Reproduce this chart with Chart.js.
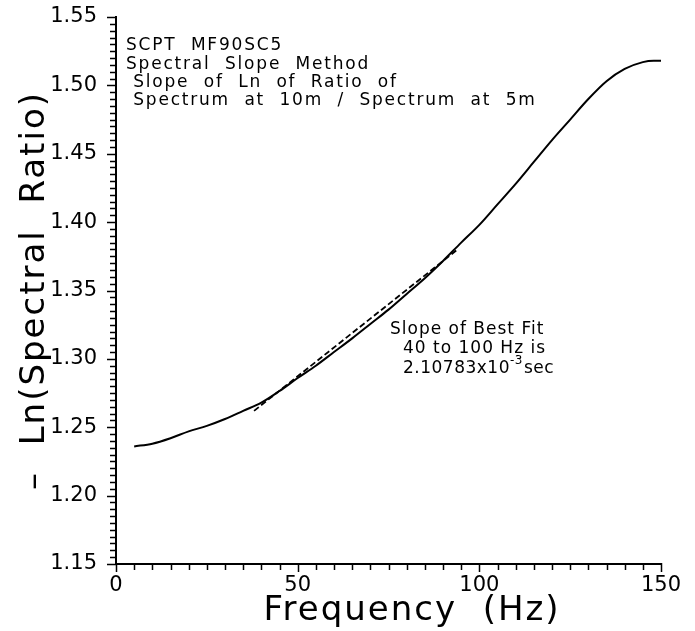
<!DOCTYPE html>
<html>
<head>
<meta charset="utf-8">
<script src="https://cdn.jsdelivr.net/npm/chart.js@4.4.1/dist/chart.umd.min.js"></script>
<style>
  html, body { margin: 0; padding: 0; background: #fff; }
  #wrap { width: 695px; height: 631px; }
</style>
</head>
<body>
<div id="wrap"><canvas id="ratioPlot" width="695" height="631"></canvas></div>
<script>
// measured ratio curve
const freqHz = [5, 10, 15, 20, 25, 30, 35, 40, 45, 50, 55, 60, 65, 70, 75, 80, 85, 90, 95, 100,
                105, 110, 115, 120, 125, 130, 135, 140, 145, 148, 150];
const lnRatio = [1.236, 1.238, 1.242, 1.247, 1.251, 1.256, 1.262, 1.268, 1.2765, 1.286,
                 1.295, 1.305, 1.315, 1.3255, 1.336, 1.3475, 1.359, 1.3716, 1.385, 1.398,
                 1.413, 1.428, 1.444, 1.460, 1.475, 1.490, 1.503, 1.512, 1.517, 1.518, 1.518];

// best fit line (40 to 100 Hz)
const fitFreq = [38, 94];
const fitLn = [1.262, 1.380];

const headerLines = ['SCPT  MF90SC5', 'Spectral  Slope  Method', ' Slope  of  Ln  of  Ratio  of', ' Spectrum  at  10m  /  Spectrum  at  5m'];
const fitLines = ['Slope of Best Fit', '40 to 100 Hz is'];
const fitSlope = ['2.10783x10', '-3', 'sec'];

const font = '"DejaVu Sans", sans-serif';

function toPoints(xs, ys) {
    let pts = [];
    for (let i = 0; i < xs.length; i++) {
        pts.push({x: xs[i], y: ys[i]});
    }
    return pts;
}

/**
 * tick marks: minor every 0.005 / 5 Hz, longer at labelled values
 */
const tickMarks = {
    id: 'tickMarks',
    afterDraw(chart) {
        let ctx = chart.ctx;
        let xs = chart.scales.x;
        let ys = chart.scales.y;
        let area = chart.chartArea;
        ctx.save();
        ctx.strokeStyle = '#000';
        ctx.lineWidth = 1.5;
        ctx.beginPath();
        for (let i = 0; i <= 80; i++) {
            let py = Math.round(ys.getPixelForValue(1.15 + i * 0.005)) + 0.5;
            let len = (i % 10 === 0) ? 9 : 6;
            ctx.moveTo(area.left - len, py);
            ctx.lineTo(area.left + 1, py);
        }
        for (let i = 0; i <= 30; i++) {
            let px = Math.round(xs.getPixelForValue(i * 5)) + 0.5;
            let len = (i % 10 === 0) ? 8 : 6;
            ctx.moveTo(px, area.bottom - 1);
            ctx.lineTo(px, area.bottom + len);
        }
        ctx.stroke();
        ctx.restore();
    }
};

/**
 * axis titles and notes
 */
const notes = {
    id: 'notes',
    afterDraw(chart) {
        let ctx = chart.ctx;
        let area = chart.chartArea;
        ctx.save();
        ctx.fillStyle = '#000';
        ctx.textBaseline = 'middle';

        ctx.font = '17px ' + font;
        ctx.letterSpacing = '1.8px';
        ctx.textAlign = 'left';
        let lineY = [46, 65, 83, 101];
        for (let i = 0; i < headerLines.length; i++) {
            ctx.fillText(headerLines[i], 126, lineY[i]);
        }

        ctx.letterSpacing = '1px';
        ctx.fillText(fitLines[0], 390, 330);
        ctx.fillText(fitLines[1], 403, 349);
        let x0 = 403;
        ctx.letterSpacing = '0.5px';
        ctx.fillText(fitSlope[0], x0, 369);
        x0 += ctx.measureText(fitSlope[0]).width;
        ctx.font = '12px ' + font;
        ctx.fillText(fitSlope[1], x0, 361);
        x0 += ctx.measureText(fitSlope[1]).width + 1;
        ctx.font = '17px ' + font;
        ctx.fillText(fitSlope[2], x0, 369);

        ctx.font = '34px ' + font;
        ctx.letterSpacing = '2px';
        ctx.textAlign = 'center';
        ctx.fillText('Frequency  (Hz)', 412, 611);

        ctx.translate(35, (area.top + area.bottom) / 2);
        ctx.rotate(-Math.PI / 2);
        ctx.fillText('\u2013  Ln(Spectral  Ratio)', 0, 0);
        ctx.restore();
    }
};

function noPad(scale) {
    scale.paddingTop = 0;
    scale.paddingBottom = 0;
    scale.paddingLeft = 0;
    scale.paddingRight = 0;
}

function draw() {
    let plotArea = document.getElementById('ratioPlot');
    let chartObject = {};
    chartObject['type'] = 'scatter';
    chartObject['plugins'] = [tickMarks, notes];
    chartObject['data'] = {datasets: []};
    chartObject['data']['datasets'].push({
        label: 'ratio',
        data: toPoints(freqHz, lnRatio),
        showLine: true,
        borderColor: '#000',
        borderWidth: 2,
        pointRadius: 0,
        cubicInterpolationMode: 'monotone'
    });
    chartObject['data']['datasets'].push({
        label: 'fit',
        data: toPoints(fitFreq, fitLn),
        showLine: true,
        borderColor: '#000',
        borderWidth: 1.8,
        borderDash: [6, 3],
        pointRadius: 0
    });
    chartObject['options'] = {
        responsive: false,
        animation: false,
        layout: {autoPadding: false, padding: {top: 17, right: 34, left: 0, bottom: 0}},
        plugins: {legend: {display: false}, tooltip: {enabled: false}},
        scales: {
            x: {
                type: 'linear', min: 0, max: 150,
                afterFit: function(scale) { scale.height = 67; noPad(scale); },
                grid: {display: false, drawTicks: false},
                border: {display: true, color: '#000', width: 2},
                ticks: {stepSize: 50, padding: 9, color: '#000', font: {family: font, size: 21}}
            },
            y: {
                min: 1.15, max: 1.55,
                afterFit: function(scale) { scale.width = 116; noPad(scale); },
                grid: {display: false, drawTicks: false},
                border: {display: true, color: '#000', width: 2},
                ticks: {
                    stepSize: 0.05, padding: 19, color: '#000',
                    font: {family: font, size: 21},
                    callback: function(v) { return v.toFixed(2); }
                }
            }
        }
    };
    new Chart(plotArea, chartObject);
}

draw();
</script>
</body>
</html>
